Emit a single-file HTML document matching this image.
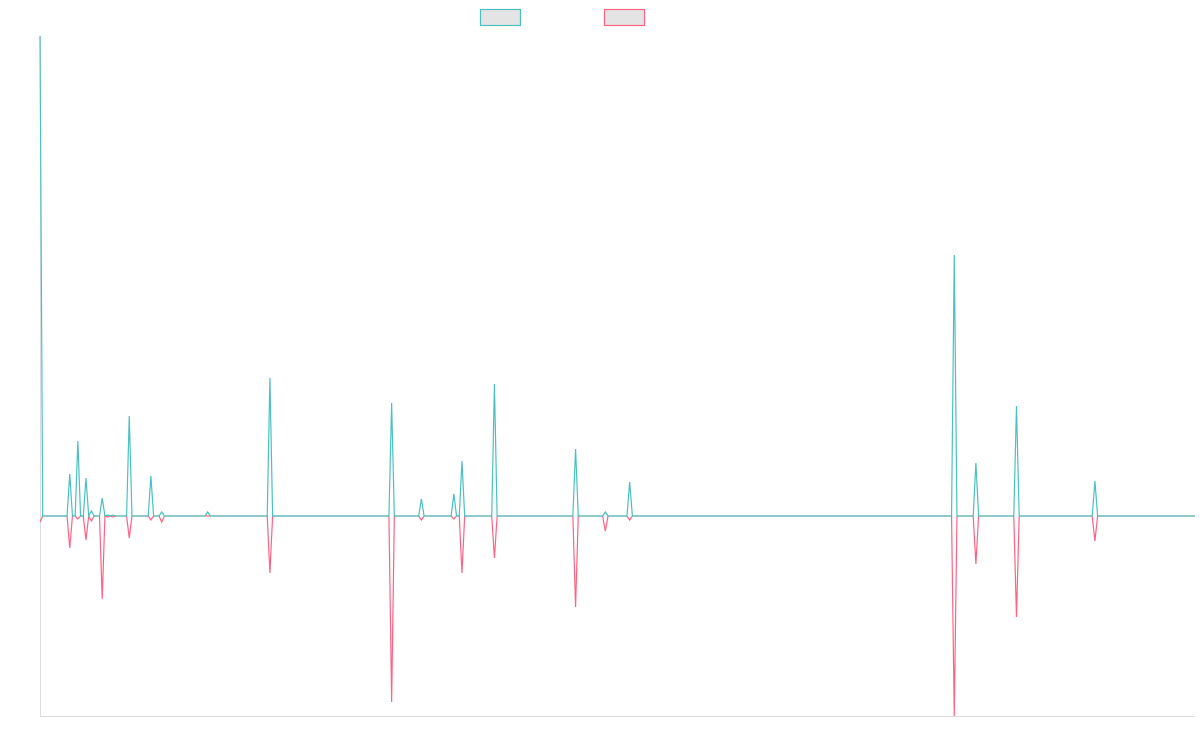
<!DOCTYPE html>
<html><head><meta charset="utf-8"><style>
html,body{margin:0;padding:0;background:#fff;width:1200px;height:750px;overflow:hidden;font-family:"Liberation Sans",sans-serif}
</style></head><body>
<svg id="chart" width="1200" height="750" xmlns="http://www.w3.org/2000/svg">
<g>
<rect x="480.5" y="9.5" width="40" height="16" fill="#e4e4e4" stroke="#4bc0c0" stroke-width="1.2"/>
<rect x="604.5" y="9.5" width="40" height="16" fill="#e4e4e4" stroke="#ff6384" stroke-width="1.2"/>
</g>
<line x1="40.5" y1="36" x2="40.5" y2="716" stroke="#ddd"/>
<line x1="40" y1="716.5" x2="1195" y2="716.5" stroke="#ddd"/>
<g id="series"></g>
</svg>
<script>
const pointCount = 428;
const spikeIndex = [0, 11, 14, 17, 19, 23, 25, 27, 33, 41, 45, 62, 85, 130, 141, 153, 156, 168, 198, 209, 218, 338, 346, 361, 390];
const tealSpikes = [480, 42, 75, 38, 5, 18, 1, 1, 100, 40, 4, 4, 138, 113, 17, 22, 55, 132, 67, 4, 34, 261, 53, 110, 35];
const pinkSpikes = [-6, -32, -3, -24, -5, -83, -1, -1, -22, -4, -6, 0, -57, -186, -4, -3, -57, -42, -91, -15, -4, -200, -48, -101, -25];

const tealValues = new Array(pointCount).fill(0);
const pinkValues = new Array(pointCount).fill(0);
spikeIndex.forEach((k, i) => { tealValues[k] = tealSpikes[i]; pinkValues[k] = pinkSpikes[i]; });

const xLeft = 40, xRight = 1195, yTop = 36, yBottom = 716, vMin = -200, vMax = 480;
function xScale(i) { return xLeft + i * (xRight - xLeft) / (pointCount - 1); }
function yScale(v) { return yBottom - (v - vMin) / (vMax - vMin) * (yBottom - yTop); }

const g = document.getElementById('series');
function drawLine(values, color, name) {
  const d = values.map((v, i) => (i ? 'L' : 'M') + xScale(i).toFixed(2) + ',' + yScale(v).toFixed(2)).join('');
  const p = document.createElementNS('http://www.w3.org/2000/svg', 'path');
  p.setAttribute('d', d);
  p.setAttribute('fill', 'none');
  p.setAttribute('stroke', color);
  p.setAttribute('stroke-width', '1.2');
  p.setAttribute('stroke-linejoin', 'miter');
  
  
  g.appendChild(p);
}
drawLine(pinkValues, '#ff6384', 'series-2-line');
drawLine(tealValues, '#4bc0c0', 'series-1-line');
</script>
</body></html>
